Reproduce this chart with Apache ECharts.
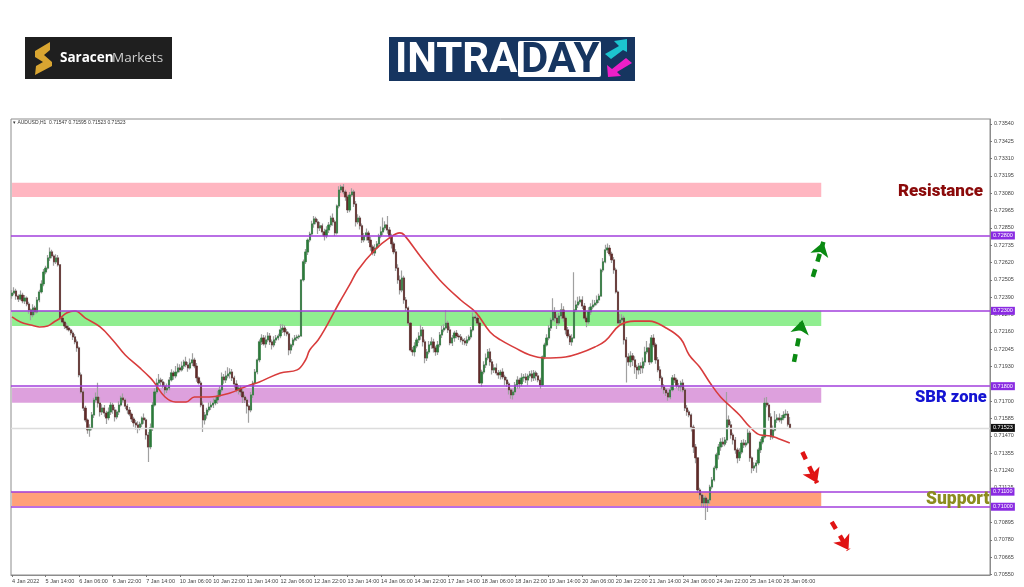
<!DOCTYPE html>
<html><head><meta charset="utf-8">
<style>html,body{margin:0;padding:0;background:#fff}#c{width:1024px;height:587px;filter:blur(0.35px)}</style>
<script src="https://cdn.jsdelivr.net/npm/echarts@6/dist/echarts.min.js"></script>
</head><body><div id="c"></div>
<script>
// prices in 1e-5 units (72300 = 0.72300); hourly AUDUSD bars
const closes = [
72418,72431,72398,72378,72405,72365,72385,72345,72306,72273,72319,72293,72372,72425,72478,72558,
72584,72651,72691,72664,72625,72651,72605,72252,72226,72199,72186,72173,72153,72127,72094,72054,
71875,71762,71655,71576,71509,71523,71609,71708,71728,71688,71629,71655,71622,71589,71629,71675,
71642,71596,71629,71675,71722,71708,71668,71642,71615,71582,71556,71543,71523,71549,71589,71576,
71476,71397,71523,71675,71762,71821,71841,71828,71801,71775,71788,71841,71888,71868,71894,71921,
71908,71934,71961,71941,71921,71954,71974,71934,71855,71821,71675,71576,71609,71642,71662,71675,
71688,71708,71735,71775,71861,71841,71868,71881,71894,71855,71815,71775,71788,71762,71728,71708,
71668,71642,71742,71821,71894,71974,72094,72120,72080,72107,72133,72094,72074,72107,72120,72133,
72173,72186,72160,72147,72040,72074,72107,72120,72127,72133,72505,72625,72691,72770,72810,72877,
72910,72890,72850,72864,72824,72797,72837,72870,72916,72890,72817,72996,73102,73122,73089,73056,
72969,73069,73089,73009,72890,72916,72864,72770,72797,72817,72770,72724,72684,72717,72744,72797,
72824,72850,72870,72837,72797,72744,72691,72584,72505,72438,72518,72372,72319,72219,72040,72027,
72067,72107,72133,72173,72094,71987,72027,72074,72094,72054,72027,72074,72140,72173,72186,72219,
72173,72087,72120,72153,72133,72127,72107,72100,72087,72107,72127,72173,72259,72252,72219,71821,
71894,71941,71987,72027,71961,71908,71921,71888,71875,71894,71861,71841,71815,71775,71742,71762,
71808,71841,71815,71855,71861,71841,71868,71881,71855,71888,71868,71841,71808,71994,72074,72120,
72186,72239,72293,72252,72219,72266,72306,72252,72173,72133,72094,72120,72306,72339,72359,72372,
72332,72252,72226,72293,72326,72339,72352,72372,72398,72571,72625,72704,72717,72677,72638,72571,
72425,72219,72239,72252,72107,71994,71961,72001,71974,71927,71908,71934,71921,71961,72027,72054,
71961,72120,72074,71974,71908,71855,71795,71775,71755,71728,71775,71855,71841,71801,71795,71821,
71775,71655,71629,71609,71529,71397,71324,71111,71078,71025,71058,71025,71045,71131,71178,71257,
71344,71397,71429,71416,71443,71576,71543,71476,71443,71377,71324,71363,71423,71410,71423,71489,
71324,71257,71271,71290,71377,71429,71463,71688,71675,71596,71463,71509,71576,71589,71576,71589,
71609,71615,71547,71523];
const opens = [
72400,72418,72431,72398,72378,72405,72365,72385,72345,72306,72273,72319,72293,72372,72425,72478,
72558,72584,72651,72691,72664,72625,72651,72605,72252,72226,72199,72186,72173,72153,72127,72094,
72054,71875,71762,71655,71576,71509,71523,71609,71708,71728,71688,71629,71655,71622,71589,71629,
71675,71642,71596,71629,71675,71722,71708,71668,71642,71615,71582,71556,71543,71523,71549,71589,
71576,71476,71397,71523,71675,71762,71821,71841,71828,71801,71775,71788,71841,71888,71868,71894,
71921,71908,71934,71961,71941,71921,71954,71974,71934,71855,71821,71675,71576,71609,71642,71662,
71675,71688,71708,71735,71775,71861,71841,71868,71881,71894,71855,71815,71775,71788,71762,71728,
71708,71668,71642,71742,71821,71894,71974,72094,72120,72080,72107,72133,72094,72074,72107,72120,
72133,72173,72186,72160,72147,72040,72074,72107,72120,72127,72133,72505,72625,72691,72770,72810,
72877,72910,72890,72850,72864,72824,72797,72837,72870,72916,72890,72817,72996,73102,73122,73089,
73056,72969,73069,73089,73009,72890,72916,72864,72770,72797,72817,72770,72724,72684,72717,72744,
72797,72824,72850,72870,72837,72797,72744,72691,72584,72505,72438,72518,72372,72319,72219,72040,
72027,72067,72107,72133,72173,72094,71987,72027,72074,72094,72054,72027,72074,72140,72173,72186,
72219,72173,72087,72120,72153,72133,72127,72107,72100,72087,72107,72127,72173,72259,72252,72219,
71821,71894,71941,71987,72027,71961,71908,71921,71888,71875,71894,71861,71841,71815,71775,71742,
71762,71808,71841,71815,71855,71861,71841,71868,71881,71855,71888,71868,71841,71808,71994,72074,
72120,72186,72239,72293,72252,72219,72266,72306,72252,72173,72133,72094,72120,72306,72339,72359,
72372,72332,72252,72226,72293,72326,72339,72352,72372,72398,72571,72625,72704,72717,72677,72638,
72571,72425,72219,72239,72252,72107,71994,71961,72001,71974,71927,71908,71934,71921,71961,72027,
72054,71961,72120,72074,71974,71908,71855,71795,71775,71755,71728,71775,71855,71841,71801,71795,
71821,71775,71655,71629,71609,71529,71397,71324,71111,71078,71025,71058,71025,71045,71131,71178,
71257,71344,71397,71429,71416,71443,71576,71543,71476,71443,71377,71324,71363,71423,71410,71423,
71489,71324,71257,71271,71290,71377,71429,71463,71688,71675,71596,71463,71509,71576,71589,71576,
71589,71609,71615,71547];
// wick lengths above / below the body
const upperWicks = [
20,25,15,10,30,15,20,10,15,10,25,15,20,15,25,20,
15,20,30,15,10,25,20,5,15,10,20,15,10,15,20,15,
10,15,10,15,10,25,20,15,30,95,40,25,20,15,30,20,
15,20,15,25,15,30,10,15,20,10,15,20,25,15,10,30,
15,20,30,20,25,30,40,15,20,25,30,20,25,15,40,30,
25,30,15,35,20,30,45,15,20,10,15,25,20,15,30,25,
30,20,35,25,30,20,35,45,25,20,15,25,20,15,20,15,
15,10,20,15,20,10,15,25,20,30,25,20,15,25,20,15,
40,25,20,20,15,10,15,20,15,10,5,15,20,10,15,20,
20,15,20,25,15,20,25,20,15,30,15,10,25,15,20,15,
15,20,25,15,20,25,15,15,20,30,15,20,15,25,20,15,
35,70,25,60,20,15,15,20,25,30,50,15,20,10,5,20,
25,15,25,35,20,15,20,25,30,20,15,25,20,30,25,85,
15,25,20,15,20,15,20,15,20,25,15,20,30,15,20,10,
15,25,30,20,25,20,25,30,20,15,25,15,20,15,10,15,
20,25,15,30,20,25,15,20,25,20,15,20,15,10,15,25,
20,15,90,30,25,20,45,25,15,20,15,25,250,30,35,25,
25,20,15,30,25,35,20,30,15,10,25,35,30,20,15,20,
15,10,40,25,15,20,25,30,20,25,15,20,25,30,35,45,
30,20,25,15,20,25,15,20,15,10,25,20,25,15,20,15,
25,15,20,15,10,15,20,5,15,10,20,15,10,15,20,15,
15,20,25,30,20,185,30,25,15,20,15,25,20,25,20,30,
15,10,25,20,15,20,15,35,40,15,25,30,60,25,30,20,
25,30,20,48];
const lowerWicks = [
20,15,25,20,10,15,20,15,25,35,15,20,10,15,10,15,
15,10,20,15,25,15,10,15,10,20,15,10,15,20,15,25,
15,10,20,15,25,45,15,20,15,30,30,20,25,40,15,20,
25,30,15,20,10,15,20,25,15,20,25,30,35,15,20,25,
30,100,15,20,10,15,20,25,15,30,20,15,10,25,15,10,
15,10,20,15,25,10,20,15,25,10,15,80,30,25,15,20,
20,15,25,10,15,25,20,15,30,20,25,15,30,25,40,20,
50,85,15,20,10,15,15,20,10,25,15,20,30,15,20,15,
15,20,25,15,35,25,15,10,20,15,5,10,15,20,15,10,
25,15,40,20,25,30,15,20,15,25,20,10,15,20,15,25,
20,15,10,20,30,15,25,20,15,30,20,25,15,20,10,25,
15,20,15,25,20,30,15,20,25,30,15,25,20,15,10,25,
30,15,20,25,30,35,20,15,25,30,25,20,15,20,15,10,
20,15,20,25,15,20,15,25,15,20,10,15,10,20,15,5,
25,15,20,15,25,30,20,15,25,30,15,35,20,30,25,30,
20,25,30,15,25,20,35,15,25,20,30,15,25,5,15,10,
15,20,10,25,40,15,20,25,30,15,20,25,5,15,20,15,
20,15,35,15,20,15,10,15,20,5,15,10,20,15,20,25,
10,5,20,15,30,170,25,35,40,45,60,30,40,35,25,15,
20,10,15,25,15,20,15,25,20,25,15,10,20,15,25,30,
15,20,25,15,30,40,35,20,30,25,30,113,60,25,15,10,
15,30,25,20,15,20,15,25,30,25,35,20,15,20,15,10,
25,35,20,45,15,20,15,10,15,25,20,15,10,20,15,25,
15,20,15,0];
// moving average read at these bar numbers
const maBars = [0,4,9,13,17,20,23,26,30,35,42,48,54,61,66,68,73,78,83,87,94,104,111,118,128,136,140,142,146,149,156,161,165,173,180,185,187,195,204,214,221,228,233,240,247,254,264,271,278,283,290,297,304,312,319,323,328,333,338,343,347,352,357,362,366,371];
const maValues = [72260,72226,72206,72193,72199,72226,72252,72286,72299,72252,72193,72107,72007,71921,71855,71821,71728,71695,71695,71728,71728,71755,71795,71828,71888,71908,71974,72040,72107,72173,72352,72472,72571,72704,72784,72817,72804,72658,72505,72372,72293,72160,72107,72054,72007,71987,71994,72020,72060,72100,72206,72232,72232,72186,72114,72007,71927,71821,71728,71662,71609,71529,71476,71470,71450,71423];
const xTickLabels = ['4 Jan 2022','5 Jan 14:00','6 Jan 06:00','6 Jan 22:00','7 Jan 14:00','10 Jan 06:00','10 Jan 22:00','11 Jan 14:00','12 Jan 06:00','12 Jan 22:00','13 Jan 14:00','14 Jan 06:00','14 Jan 22:00','17 Jan 14:00','18 Jan 06:00','18 Jan 22:00','19 Jan 14:00','20 Jan 06:00','20 Jan 22:00','21 Jan 14:00','24 Jan 06:00','24 Jan 22:00','25 Jan 14:00','26 Jan 06:00'];
const yTicks = [73540,73425,73310,73195,73080,72965,72850,72735,72620,72505,72390,72275,72160,72045,71930,71700,71585,71470,71355,71240,71125,70895,70780,70665,70550];
const levels = [72800,72300,71800,71100,71000];
const lastPrice = 71523;
const zones = [[73150,73056,'#ffb6c1'],[72300,72200,'#90ee90'],[71790,71690,'#dda0dd'],[71100,71005,'#ffa07a']];
const arrows = [
 [372.6,71961,377.4,72239,'#0a8a12'],
 [382.2,72525,387,72757,'#0a8a12'],
 [377,71363,384,71157,'#e01414'],
 [391,70899,399,70713,'#e01414']];

const SLOTS = 467, ZONE_END = 386, STEP = 16;
const categories = Array.from({length:SLOTS},(_,i)=> i%STEP===0 && xTickLabels[i/STEP] ? xTickLabels[i/STEP] : '');
const showTick = i => i%STEP===0 && i/STEP < xTickLabels.length;
const fmt = v => (v/100000).toFixed(5);
const wickData = closes.map((c,i)=>[opens[i],c,Math.min(opens[i],c)-lowerWicks[i],Math.max(opens[i],c)+upperWicks[i]]);
const bodyData = closes.map((c,i)=>[opens[i],c,Math.min(opens[i],c),Math.max(opens[i],c)]);

const chart = echarts.init(document.getElementById('c'),null,{renderer:'canvas'});
const txt = (x,y,text,font,fill,extra)=>({type:'text',x,y,z:20,style:Object.assign({text,font,fill,textVerticalAlign:'middle'},extra||{})});
const poly = (points,fill)=>({type:'polygon',z:20,shape:{points},style:{fill}});
const tagLabel = (v,bg)=>({show:true,position:'end',formatter:fmt(v),backgroundColor:bg,color:'#fff',fontSize:5.5,padding:[1,2],distance:1,fontFamily:'Liberation Sans'});
chart.setOption({
 animation:false,
 backgroundColor:'#fff',
 grid:{left:11,right:34,top:119,bottom:12,show:true,borderColor:'#8c8c8c',borderWidth:1,backgroundColor:'#fff'},
 xAxis:{type:'category',data:categories,boundaryGap:true,
  axisLine:{show:true,lineStyle:{color:'#8c8c8c'}},
  axisTick:{show:true,alignWithLabel:true,interval:showTick,length:2,lineStyle:{color:'#777'}},
  axisLabel:{interval:showTick,align:'left',fontSize:5.5,margin:3,color:'#444',fontFamily:'Liberation Sans',hideOverlap:false},
  splitLine:{show:false}},
 yAxis:{type:'value',position:'right',min:70547,max:73573,scale:true,
  axisLine:{show:true,lineStyle:{color:'#8c8c8c'}},
  axisTick:{show:true,length:2,customValues:yTicks,lineStyle:{color:'#777'}},
  axisLabel:{customValues:yTicks,formatter:fmt,fontSize:5.5,margin:4,color:'#444',fontFamily:'Liberation Sans'},
  splitLine:{show:false}},
 series:[
  {type:'line',data:[],silent:true,symbol:'none',z:1,
   markArea:{silent:true,z:1,data:zones.map(z=>[{xAxis:0,yAxis:z[0],itemStyle:{color:z[2],opacity:1}},{xAxis:ZONE_END,yAxis:z[1]}])},
   markLine:{silent:true,z:5,symbol:'none',animation:false,
    data:[
     {yAxis:lastPrice,lineStyle:{color:'#dcdcdc',width:1.4,type:'solid'},label:tagLabel(lastPrice,'#111')},
     ...levels.map(v=>({yAxis:v,lineStyle:{color:'#a23fdc',width:1.7,type:'solid'},label:tagLabel(v,'#8a2be2')}))
    ]}},
  {type:'candlestick',name:'wicks',data:wickData,barWidth:1.4,z:2,silent:true,
   itemStyle:{color:'#a0a0a0',color0:'#a0a0a0',borderColor:'#a0a0a0',borderColor0:'#a0a0a0',borderWidth:1.2}},
  {type:'candlestick',name:'AUDUSD,H1',data:bodyData,barWidth:1.8,z:3,silent:true,
   itemStyle:{color:'#2c7a3a',color0:'#5e2a28',borderColor:'#2c7a3a',borderColor0:'#5e2a28',borderWidth:0.6}},
  {type:'line',name:'MA',data:maBars.map((b,i)=>[b,maValues[i]]),symbol:'none',smooth:0.4,z:4,silent:true,
   lineStyle:{color:'#d83c3c',width:1.6}},
  {type:'line',data:[],silent:true,symbol:'none',z:6,
   markLine:{silent:true,z:6,symbol:['none','arrow'],symbolSize:[14,14],animation:false,
    label:{show:false},
    data:arrows.map(a=>[{xAxis:a[0],yAxis:a[1],lineStyle:{color:a[4],width:4.5,type:[8,8]},itemStyle:{color:a[4]}},{xAxis:a[2],yAxis:a[3]}])}}
 ],
 graphic:[
  txt(13,122.5,'\u25BE AUDUSD,H1  0.71547 0.71595 0.71523 0.71523','5px "Liberation Sans"','#333'),
  txt(898,191.5,'Resistance','900 17px Roboto','#8b0a0a'),
  txt(915,397.5,'SBR zone','900 16.5px Roboto','#1414d2'),
  txt(926,499.5,'Support','900 17.5px Roboto','#8c8c1e'),
  {type:'rect',z:18,shape:{x:25,y:37,width:147,height:42},style:{fill:'#1f1f1f'}},
  poly([[50,42],[50,50],[44,55],[52,62],[52,66],[35,75],[36,66],[43,62],[35,57],[35,51]],'#d9a531'),
  txt(60,58,'Saracen','bold 13.5px "Open Sans"','#fff'),
  txt(112,58,'Markets','13.5px "Open Sans"','#cfcfcf'),
  {type:'rect',z:18,shape:{x:389,y:37,width:246,height:44},style:{fill:'#163560'}},
  txt(395,61,'INTRA','bold 42px Roboto','#fff'),
  {type:'rect',z:19,shape:{x:518,y:41,width:83,height:36,r:2},style:{fill:'#fff'}},
  txt(521,61,'DAY','bold 42px Roboto','#163560'),
  poly([[627,39],[614,41],[619,46],[605,54],[611,59],[623,50],[627,52]],'#1cc4cf'),
  poly([[608,77],[607,65],[612,69],[626,58],[632,63],[617,72],[621,76]],'#ee1fc8')
 ]
});
</script></body></html>
